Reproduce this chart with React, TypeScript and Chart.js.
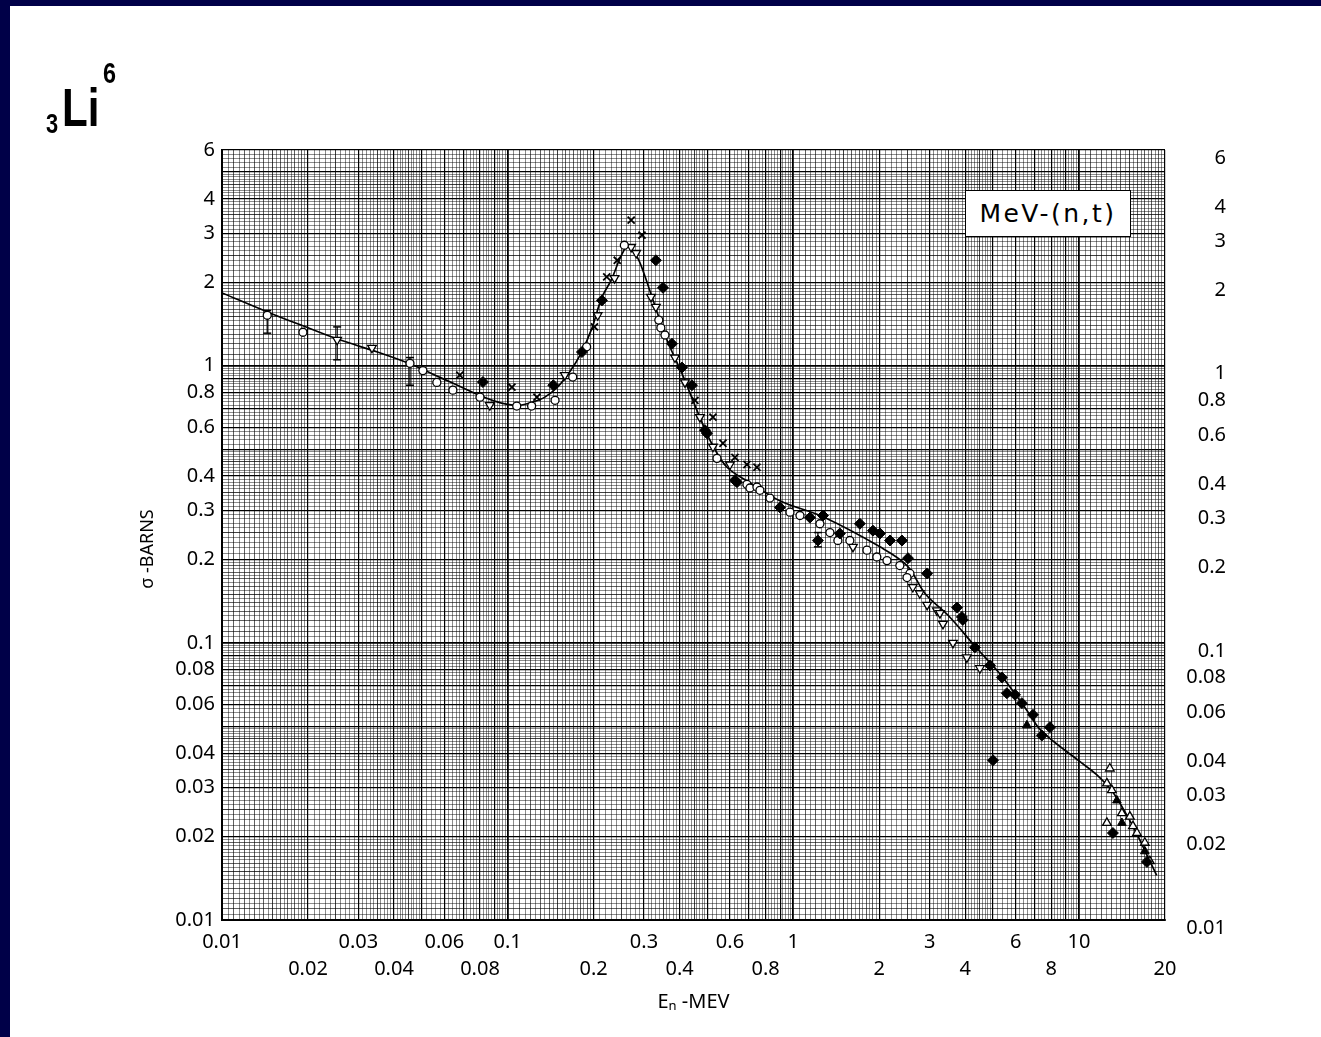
import React, { useEffect, useRef } from 'react';
import { Chart, registerables } from 'chart.js';

Chart.register(...registerables);

// ---- axis ranges & tick labels ----
const X_MIN = 0.01;
const X_MAX = 20;
const Y_MIN = 0.01;
const Y_MAX = 6;
const xLabelsRow1 = ['0.01', '0.03', '0.06', '0.1', '0.3', '0.6', '1', '3', '6', '10'];
const xLabelsRow2 = ['0.02', '0.04', '0.08', '0.2', '0.4', '0.8', '2', '4', '8', '20'];
const yLabels = ['6', '4', '3', '2', '1', '0.8', '0.6', '0.4', '0.3', '0.2', '0.1', '0.08', '0.06', '0.04', '0.03', '0.02', '0.01'];

// ---- evaluated curve ----
const curveX = [0.01, 0.0147, 0.02, 0.0258, 0.035, 0.045, 0.055, 0.065, 0.08, 0.09, 0.1, 0.11, 0.12, 0.135, 0.15, 0.165, 0.18, 0.197, 0.213, 0.231, 0.25, 0.264, 0.285, 0.3, 0.32, 0.361, 0.407, 0.471, 0.52, 0.586, 0.7, 0.9, 1.27, 2.01, 2.5, 2.9, 3.5, 4.37, 5.3, 6.5, 7.4, 10, 11.5, 13.1, 14.5, 16, 17.7, 18.7];
const curveY = [1.83, 1.55, 1.37, 1.24, 1.12, 1.02, 0.93, 0.86, 0.78, 0.745, 0.725, 0.72, 0.735, 0.77, 0.84, 0.95, 1.1, 1.36, 1.75, 2.05, 2.5, 2.7, 2.45, 2.15, 1.77, 1.24, 0.94, 0.65, 0.52, 0.43, 0.38, 0.325, 0.285, 0.222, 0.19, 0.15, 0.125, 0.096, 0.077, 0.058, 0.048, 0.0375, 0.0335, 0.029, 0.0245, 0.0203, 0.0163, 0.0145];

// ---- measured points ----
const openCircleX = [0.0144, 0.0192, 0.0455, 0.0505, 0.0565, 0.0643, 0.08, 0.1076, 0.1213, 0.1465, 0.169, 0.189, 0.2561, 0.3382, 0.3437, 0.3553, 0.5404, 0.688, 0.7048, 0.7457, 0.764, 0.828, 0.973, 1.055, 1.239, 1.343, 1.432, 1.577, 1.81, 1.96, 2.127, 2.36, 2.56, 2.5];
const openCircleY = [1.52, 1.32, 1.02, 0.96, 0.87, 0.816, 0.77, 0.715, 0.715, 0.75, 0.91, 1.17, 2.72, 1.46, 1.37, 1.29, 0.463, 0.373, 0.362, 0.365, 0.355, 0.333, 0.296, 0.288, 0.269, 0.25, 0.234, 0.234, 0.216, 0.204, 0.198, 0.19, 0.178, 0.172];

const triDownX = [0.0253, 0.0335, 0.0866, 0.1585, 0.2066, 0.2366, 0.2706, 0.2818, 0.3174, 0.3302, 0.3852, 0.4175, 0.4711, 0.5232, 0.6, 1.617, 2.62, 2.77, 2.94, 3.18, 3.26, 3.34, 3.62, 4.05, 4.5];
const triDownY = [1.24, 1.16, 0.72, 0.925, 1.52, 2.07, 2.68, 2.55, 1.77, 1.63, 1.07, 0.87, 0.652, 0.51, 0.44, 0.222, 0.159, 0.151, 0.137, 0.131, 0.128, 0.117, 0.1, 0.0886, 0.081];

const crossX = [0.068, 0.1035, 0.1266, 0.2013, 0.2222, 0.2419, 0.2706, 0.2953, 0.4524, 0.5232, 0.5671, 0.6246, 0.688, 0.7457];
const crossY = [0.924, 0.837, 0.77, 1.38, 2.09, 2.4, 3.35, 2.96, 0.75, 0.652, 0.525, 0.467, 0.44, 0.43];

const filledX = [0.0819, 0.1445, 0.182, 0.2138, 0.3302, 0.3497, 0.376, 0.4074, 0.4416, 0.4906, 0.4985, 0.6246, 0.6348, 0.898, 1.143, 1.27, 1.219, 1.455, 1.71, 1.9, 2.01, 2.18, 2.4, 2.52, 2.94, 3.74, 3.89, 3.92, 4.32, 4.88, 5.37, 5.59, 5.97, 6.31, 6.9, 7.41, 7.91, 5.0, 13.14, 17.29];
const filledY = [0.873, 0.85, 1.12, 1.72, 2.4, 1.91, 1.2, 0.985, 0.85, 0.585, 0.57, 0.386, 0.38, 0.308, 0.283, 0.288, 0.234, 0.248, 0.269, 0.254, 0.248, 0.234, 0.234, 0.202, 0.178, 0.134, 0.124, 0.121, 0.0963, 0.0829, 0.075, 0.0658, 0.065, 0.0606, 0.055, 0.0463, 0.0496, 0.0377, 0.0206, 0.0162];

const triUpFilledX = [6.57, 13.57, 14.13, 17.0];
const triUpFilledY = [0.0504, 0.027, 0.0224, 0.0177];

const triUpOpenX = [12.82, 12.52, 13.03, 12.52, 14.13, 15.07, 15.44, 15.95, 17.0, 17.7];
const triUpOpenY = [0.0352, 0.0311, 0.0294, 0.0224, 0.0243, 0.0236, 0.0218, 0.0206, 0.019, 0.0163];

const errX = [0.0144, 0.0253, 0.0455, 1.219];
const errLo = [1.31, 1.05, 0.85, 0.222];
const errHi = [1.58, 1.38, 1.07, 0.25];

const FONT = "'Noto Sans', 'DejaVu Sans', sans-serif";

function pairs(xs: number[], ys: number[]) {
  return xs.map((x, i) => ({ x, y: ys[i] }));
}

// dense log-paper grid positions
function gridValues(min: number, max: number): number[] {
  const out: number[] = [];
  for (let e = -3; e <= 2; e++) {
    const base = Math.pow(10, e);
    let k = 100;
    while (k < 1000) {
      const v = +((k * base) / 100).toPrecision(6);
      if (v >= min * 0.9999 && v <= max * 1.0001) out.push(v);
      k += k < 200 ? 5 : k < 500 ? 10 : 20;
    }
  }
  return out;
}

function mant(v: number) {
  const e = Math.floor(Math.log10(v) + 1e-9);
  return Math.round((v / Math.pow(10, e)) * 100);
}
function gridColor(v: number) {
  const k = mant(v);
  if (k % 100 === 0) return 'rgba(0,0,0,1)';
  if (k % 50 === 0) return 'rgba(0,0,0,0.75)';
  if (k % 10 === 0 && k < 200) return 'rgba(0,0,0,0.62)';
  return 'rgba(0,0,0,0.45)';
}
function gridWidth(v: number) {
  const k = mant(v);
  if (k === 100) return 1.8;
  if (k % 100 === 0) return 1.2;
  return 1;
}
const near = (a: number, b: number) => Math.abs(a - b) / b < 1e-6;

export default function App() {
  const ref = useRef<HTMLCanvasElement | null>(null);

  useEffect(() => {
    if (!ref.current) return;
    const xGrid = gridValues(X_MIN, X_MAX);
    const yGrid = gridValues(Y_MIN, Y_MAX);
    const shift = Math.pow(10, 8 / 277);

    const errData: any[] = [];
    errX.forEach((x, i) => {
      errData.push({ x, y: errLo[i] }, { x, y: errHi[i] }, { x, y: null });
    });

    const chart = new Chart(ref.current, {
      type: 'scatter',
      data: {
        datasets: [
          {
            label: 'curve',
            data: pairs(curveX, curveY),
            showLine: true,
            borderColor: '#000',
            borderWidth: 1.7,
            pointRadius: 0,
            tension: 0.35,
            order: 10,
            xAxisID: 'x',
            yAxisID: 'y',
          },
          {
            label: 'errors',
            data: errData,
            showLine: true,
            spanGaps: false,
            borderColor: '#000',
            borderWidth: 1.3,
            pointStyle: 'line',
            pointRadius: 4,
            pointBorderColor: '#000',
            pointBorderWidth: 1.5,
            order: 5,
            xAxisID: 'x',
            yAxisID: 'y',
          },
          {
            label: 'open circles',
            data: pairs(openCircleX, openCircleY),
            pointStyle: 'circle',
            pointRadius: 4,
            pointBackgroundColor: '#fff',
            pointBorderColor: '#000',
            pointBorderWidth: 1.3,
            order: 2,
            xAxisID: 'x',
            yAxisID: 'y',
          },
          {
            label: 'open down triangles',
            data: pairs(triDownX, triDownY),
            pointStyle: 'triangle',
            rotation: 180,
            pointRadius: 5,
            pointBackgroundColor: '#fff',
            pointBorderColor: '#000',
            pointBorderWidth: 1.3,
            order: 2,
            xAxisID: 'x',
            yAxisID: 'y',
          },
          {
            label: 'crosses',
            data: pairs(crossX, crossY),
            pointStyle: 'crossRot',
            pointRadius: 5,
            pointBorderColor: '#000',
            pointBorderWidth: 1.8,
            order: 2,
            xAxisID: 'x',
            yAxisID: 'y',
          },
          {
            label: 'filled',
            data: pairs(filledX, filledY),
            pointStyle: 'rectRot',
            pointRadius: 5.5,
            pointBackgroundColor: '#000',
            pointBorderColor: '#000',
            pointBorderWidth: 1,
            order: 1,
            xAxisID: 'x',
            yAxisID: 'y',
          },
          {
            label: 'filled up triangles',
            data: pairs(triUpFilledX, triUpFilledY),
            pointStyle: 'triangle',
            pointRadius: 5,
            pointBackgroundColor: '#000',
            pointBorderColor: '#000',
            pointBorderWidth: 1,
            order: 1,
            xAxisID: 'x',
            yAxisID: 'y',
          },
          {
            label: 'open up triangles',
            data: pairs(triUpOpenX, triUpOpenY),
            pointStyle: 'triangle',
            pointRadius: 5,
            pointBackgroundColor: '#fff',
            pointBorderColor: '#000',
            pointBorderWidth: 1.3,
            order: 2,
            xAxisID: 'x',
            yAxisID: 'y',
          },
        ],
      },
      options: {
        animation: false,
        responsive: false,
        events: [],
        layout: { padding: { top: 150, right: 95, left: 0, bottom: 0 } },
        plugins: { legend: { display: false }, tooltip: { enabled: false } },
        scales: {
          x: {
            type: 'logarithmic',
            position: 'bottom',
            min: X_MIN,
            max: X_MAX,
            afterBuildTicks: (s: any) => {
              s.ticks = xGrid.map((v) => ({ value: v }));
            },
            afterFit: (s: any) => {
              s.height = 117;
            },
            grid: {
              drawTicks: false,
              color: (c: any) => gridColor(c.tick.value),
              lineWidth: (c: any) => gridWidth(c.tick.value),
            },
            border: { display: true, color: '#000', width: 2 },
            ticks: {
              autoSkip: false,
              maxRotation: 0,
              minRotation: 0,
              padding: 9,
              color: '#000',
              font: { family: FONT, size: 20, lineHeight: 1.35 },
              callback: (value: any) => {
                const v = Number(value);
                const a = xLabelsRow1.find((t) => near(parseFloat(t), v));
                if (a) return [a, ''];
                const b = xLabelsRow2.find((t) => near(parseFloat(t), v));
                if (b) return ['', b];
                return '';
              },
            },
            title: {
              display: true,
              text: 'Eₙ -MEV',
              color: '#000',
              font: { family: FONT, size: 20, lineHeight: 1.2 },
              padding: { top: 0, bottom: 23 },
            },
          },
          y: {
            type: 'logarithmic',
            position: 'left',
            min: Y_MIN,
            max: Y_MAX,
            afterBuildTicks: (s: any) => {
              s.ticks = yGrid.map((v) => ({ value: v }));
            },
            afterFit: (s: any) => {
              s.width = 222;
            },
            grid: {
              drawTicks: false,
              color: (c: any) => gridColor(c.tick.value),
              lineWidth: (c: any) => gridWidth(c.tick.value),
            },
            border: { display: true, color: '#000', width: 2 },
            ticks: {
              autoSkip: false,
              padding: 7,
              color: '#000',
              font: { family: FONT, size: 20 },
              callback: (value: any) => {
                const v = Number(value);
                const a = yLabels.find((t) => near(parseFloat(t), v));
                return a || '';
              },
            },
            title: {
              display: true,
              text: 'σ -BARNS      ',
              color: '#000',
              font: { family: FONT, size: 18, lineHeight: 1.2 },
              padding: { top: 137, bottom: 0 },
            },
          },
          y2: {
            type: 'logarithmic',
            position: 'right',
            min: Y_MIN * shift,
            max: Y_MAX * shift,
            afterBuildTicks: (s: any) => {
              s.ticks = yLabels
                .map((t) => parseFloat(t))
                .sort((a, b) => a - b)
                .map((v) => ({ value: v }));
            },
            afterFit: (s: any) => {
              s.width = 61;
            },
            grid: { display: false, drawOnChartArea: false, drawTicks: false },
            border: { display: false },
            ticks: {
              autoSkip: false,
              crossAlign: 'far',
              color: '#000',
              font: { family: FONT, size: 20 },
              callback: (value: any) => {
                const v = Number(value);
                const a = yLabels.find((t) => near(parseFloat(t), v));
                return a || '';
              },
            },
          },
        },
      },
    } as any);
    return () => chart.destroy();
  }, []);

  const tfont = "'Liberation Sans', 'DejaVu Sans', sans-serif";
  const squeeze = { transform: 'scaleX(0.78)', transformOrigin: 'left top' } as const;

  return (
    <div
      style={{
        position: 'absolute',
        left: 0,
        top: 0,
        width: 1321,
        height: 1037,
        background: '#000048',
        overflow: 'hidden',
      }}
    >
      <div style={{ position: 'absolute', left: 10, top: 6, right: 0, bottom: 0, background: '#fff' }} />
      <canvas ref={ref} width={1321} height={1037} style={{ position: 'absolute', left: 0, top: 0 }} />
      <span style={{ position: 'absolute', left: 46, top: 110, fontFamily: tfont, fontSize: 28, fontWeight: 700, lineHeight: 1, color: '#000', ...squeeze }}>3</span>
      <span style={{ position: 'absolute', left: 62, top: 80, fontFamily: tfont, fontSize: 54, fontWeight: 700, lineHeight: 1, color: '#000', ...squeeze }}>Li</span>
      <span style={{ position: 'absolute', left: 103, top: 58, fontFamily: tfont, fontSize: 30, fontWeight: 700, lineHeight: 1, color: '#000', ...squeeze }}>6</span>
      <div
        style={{
          position: 'absolute',
          left: 965,
          top: 190,
          width: 164,
          height: 45,
          border: '1.5px solid #000',
          background: '#fff',
          fontFamily: "'DejaVu Sans', sans-serif",
          fontSize: 25,
          letterSpacing: 2.5,
          lineHeight: '45px',
          textAlign: 'center',
          color: '#000',
        }}
      >
        MeV-(n,t)
      </div>
    </div>
  );
}
